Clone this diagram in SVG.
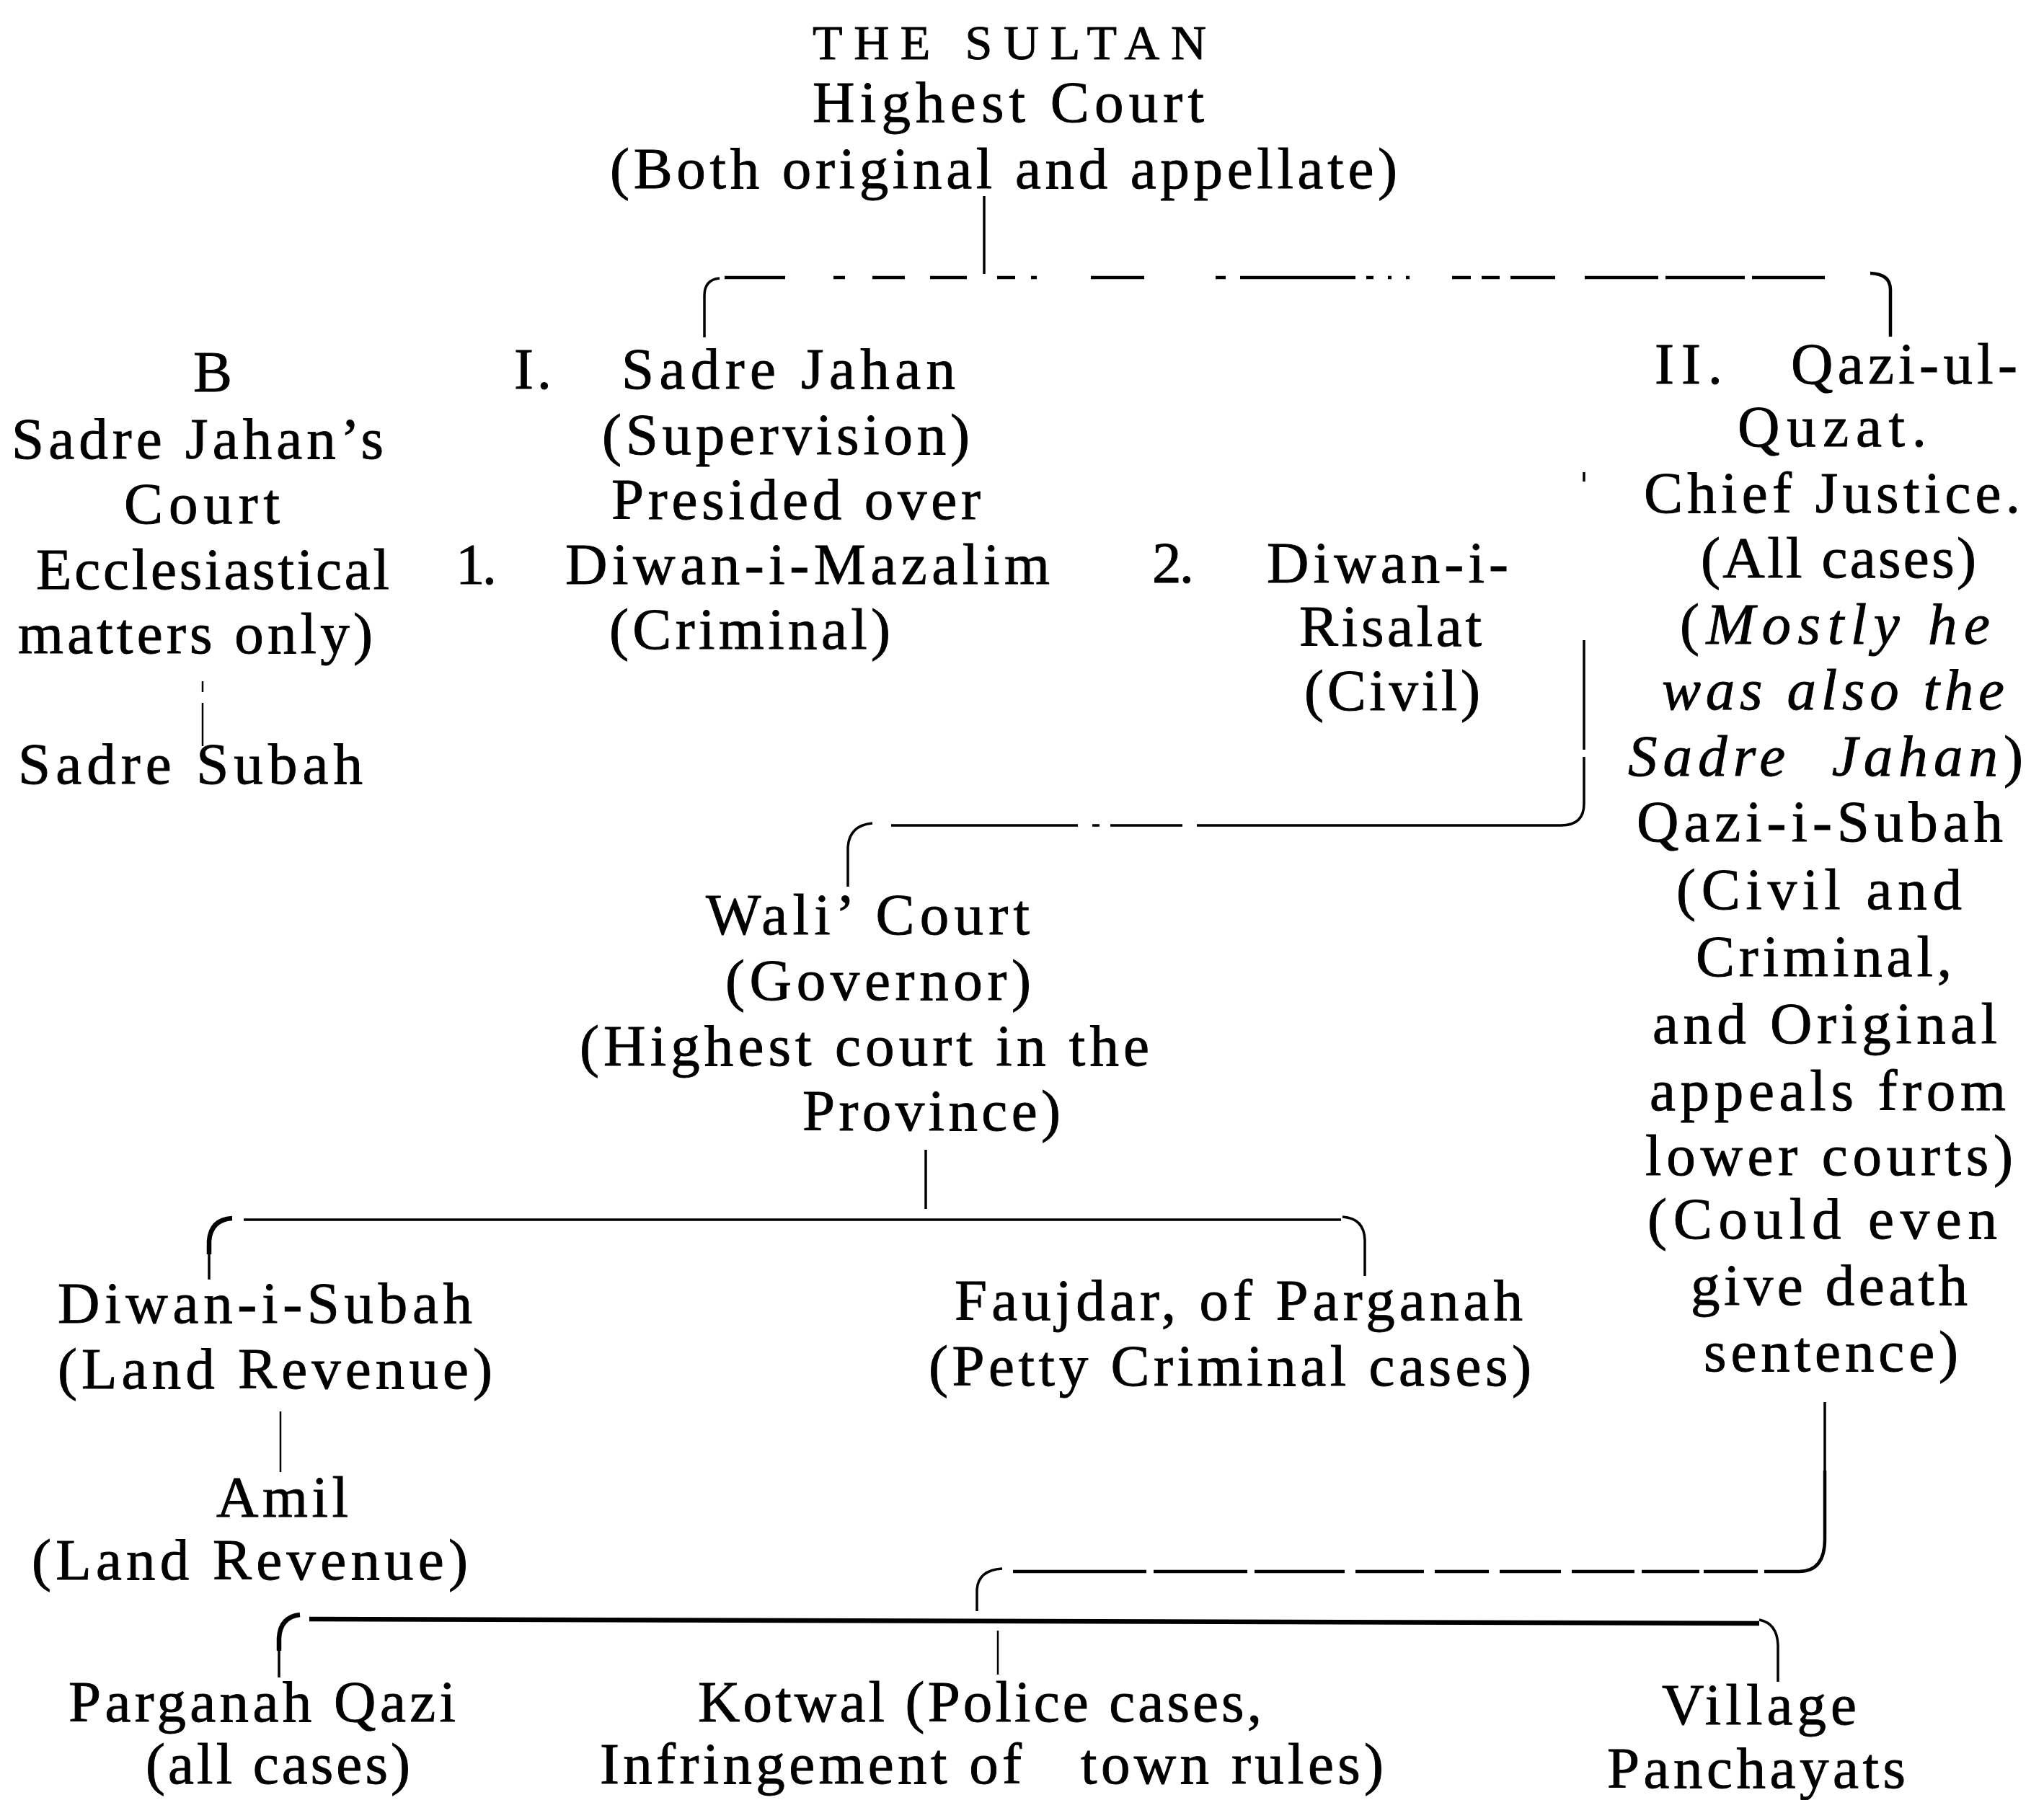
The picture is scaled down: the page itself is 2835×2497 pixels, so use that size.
<svg xmlns="http://www.w3.org/2000/svg" width="2835" height="2497" viewBox="0 0 2835 2497">
<style>
.t{font-family:"Liberation Serif","Times New Roman",serif;font-size:81px;fill:#000;stroke:#000;stroke-width:0.9}
.s{font-size:68px}
.i{font-style:italic}
.c{fill:none;stroke:#000;stroke-width:3.5}
.w{stroke-width:4.5}
.k{stroke-width:6.5}
.n{stroke-width:2.5}
</style>
<rect width="2835" height="2497" fill="#fff"/>
<g id="connectors">
<path class="c" d="M1365,272 V380"/>
<path class="c" d="M977,468 V410 Q977,388 998,386"/>
<path class="c w" d="M1005,385 H1089 M1156,385 H1172 M1210,385 H1255 M1290,385 H1341 M1383,385 H1408 M1430,385 H1438 M1513,385 H1587 M1686,385 H1700 M1720,385 H1880 M1895,385 H1905 M1925,385 H1930 M1950,385 H1955 M2014,385 H2040 M2055,385 H2080 M2095,385 H2157 M2198,385 H2300 M2310,385 H2420 M2430,385 H2531"/>
<path class="c w" d="M2594,379 Q2622,380 2622,402 V467"/>
<path class="c" d="M2197,655 V668 M2197,888 V1040 M2197,1050 V1115 Q2197,1145 2165,1145 H1660 M1640,1145 H1540 M1525,1145 H1515 M1495,1145 H1236"/>
<path class="c" d="M1210,1142 Q1178,1145 1176,1175 V1230"/>
<path class="c" d="M1284,1595 V1677"/>
<path class="c k" d="M322,1690 Q292,1692 290,1722 V1740"/>
<path class="c" d="M290,1735 V1775"/>
<path class="c" d="M338,1692 H1860"/>
<path class="c" d="M1862,1688 Q1892,1690 1893,1720 V1770"/>
<path class="c n" d="M389,1958 V2042"/>
<path class="c n" d="M281,945 V960 M281,975 V1035"/>
<path class="c" d="M2531,1945 V2045"/>
<path class="c w" d="M2531,2040 V2135 Q2531,2180 2495,2180 H2447 M2438,2180 H2363 M2357,2180 H2277 M2267,2180 H2180 M2165,2180 H2080 M2065,2180 H1990 M1975,2180 H1880 M1865,2180 H1740 M1730,2180 H1600 M1590,2180 H1405"/>
<path class="c" d="M1390,2176 Q1357,2178 1355,2205 V2235"/>
<path class="c k" d="M416,2240 Q389,2243 387,2272 V2290"/>
<path class="c" d="M387,2285 V2327"/>
<path class="c k" d="M429,2246 L2440,2252"/>
<path class="c" d="M2440,2247 Q2465,2252 2466,2282 V2333"/>
<path class="c n" d="M1384,2262 V2323"/>
</g>
<g id="sultan">
<text class="t s" x="1127" y="82" textLength="546" lengthAdjust="spacing">THE SULTAN</text>
<text class="t" x="1127" y="169" textLength="543" lengthAdjust="spacing">Highest Court</text>
<text class="t" x="846" y="261" textLength="1092" lengthAdjust="spacing">(Both original and appellate)</text>
</g>
<g id="sadre-jahans-court">
<text class="t" x="268" y="543" textLength="48" lengthAdjust="spacing">B</text>
<text class="t" x="16" y="636" textLength="516" lengthAdjust="spacing">Sadre Jahan’s</text>
<text class="t" x="172" y="726" textLength="216" lengthAdjust="spacing">Court</text>
<text class="t" x="50" y="817" textLength="490" lengthAdjust="spacing">Ecclesiastical</text>
<text class="t" x="25" y="906" textLength="492" lengthAdjust="spacing">matters only)</text>
</g>
<g id="sadre-subah">
<text class="t" x="25" y="1087" textLength="478" lengthAdjust="spacing">Sadre Subah</text>
</g>
<g id="sadre-jahan">
<text class="t" x="713" y="539" textLength="52" lengthAdjust="spacing">I.</text>
<text class="t" x="862" y="539" textLength="463" lengthAdjust="spacing">Sadre Jahan</text>
<text class="t" x="835" y="630" textLength="510" lengthAdjust="spacing">(Supervision)</text>
<text class="t" x="848" y="720" textLength="512" lengthAdjust="spacing">Presided over</text>
</g>
<g id="diwan-i-mazalim">
<text class="t" x="632" y="810" textLength="57" lengthAdjust="spacing">1.</text>
<text class="t" x="784" y="810" textLength="672" lengthAdjust="spacing">Diwan-i-Mazalim</text>
<text class="t" x="845" y="900" textLength="390" lengthAdjust="spacing">(Criminal)</text>
</g>
<g id="diwan-i-risalat">
<text class="t" x="1598" y="808" textLength="58" lengthAdjust="spacing">2.</text>
<text class="t" x="1757" y="808" textLength="335" lengthAdjust="spacing">Diwan-i-</text>
<text class="t" x="1802" y="896" textLength="253" lengthAdjust="spacing">Risalat</text>
<text class="t" x="1809" y="985" textLength="244" lengthAdjust="spacing">(Civil)</text>
</g>
<g id="qazi-ul-quzat">
<text class="t" x="2295" y="532" textLength="94" lengthAdjust="spacing">II.</text>
<text class="t" x="2484" y="532" textLength="314" lengthAdjust="spacing">Qazi-ul-</text>
<text class="t" x="2410" y="619" textLength="262" lengthAdjust="spacing">Quzat.</text>
<text class="t" x="2280" y="711" textLength="522" lengthAdjust="spacing">Chief Justice.</text>
<text class="t" x="2359" y="801" textLength="382" lengthAdjust="spacing">(All cases)</text>
<text class="t" x="2330" y="893" textLength="430" lengthAdjust="spacing">(<tspan class="i">Mostly he</tspan></text>
<text class="t i" x="2305" y="984" textLength="475" lengthAdjust="spacing">was also the</text>
<text class="t" x="2258" y="1076" textLength="548" lengthAdjust="spacing" xml:space="preserve"><tspan class="i">Sadre  Jahan</tspan>)</text>
</g>
<g id="qazi-i-subah">
<text class="t" x="2270" y="1167" textLength="508" lengthAdjust="spacing">Qazi-i-Subah</text>
<text class="t" x="2325" y="1261" textLength="396" lengthAdjust="spacing">(Civil and</text>
<text class="t" x="2352" y="1354" textLength="355" lengthAdjust="spacing">Criminal,</text>
<text class="t" x="2292" y="1447" textLength="478" lengthAdjust="spacing">and Original</text>
<text class="t" x="2288" y="1540" textLength="494" lengthAdjust="spacing">appeals from</text>
<text class="t" x="2282" y="1630" textLength="510" lengthAdjust="spacing">lower courts)</text>
<text class="t" x="2285" y="1718" textLength="485" lengthAdjust="spacing">(Could even</text>
<text class="t" x="2345" y="1810" textLength="384" lengthAdjust="spacing">give death</text>
<text class="t" x="2363" y="1902" textLength="353" lengthAdjust="spacing">sentence)</text>
</g>
<g id="wali-court">
<text class="t" x="979" y="1296" textLength="449" lengthAdjust="spacing">Wali’ Court</text>
<text class="t" x="1006" y="1387" textLength="424" lengthAdjust="spacing">(Governor)</text>
<text class="t" x="804" y="1478" textLength="790" lengthAdjust="spacing">(Highest court in the</text>
<text class="t" x="1113" y="1568" textLength="358" lengthAdjust="spacing">Province)</text>
</g>
<g id="diwan-i-subah">
<text class="t" x="80" y="1835" textLength="575" lengthAdjust="spacing">Diwan-i-Subah</text>
<text class="t" x="80" y="1926" textLength="603" lengthAdjust="spacing">(Land Revenue)</text>
</g>
<g id="amil">
<text class="t" x="300" y="2104" textLength="183" lengthAdjust="spacing">Amil</text>
<text class="t" x="44" y="2191" textLength="605" lengthAdjust="spacing">(Land Revenue)</text>
</g>
<g id="faujdar">
<text class="t" x="1324" y="1831" textLength="788" lengthAdjust="spacing">Faujdar, of Parganah</text>
<text class="t" x="1288" y="1922" textLength="836" lengthAdjust="spacing">(Petty Criminal cases)</text>
</g>
<g id="parganah-qazi">
<text class="t" x="95" y="2388" textLength="537" lengthAdjust="spacing">Parganah Qazi</text>
<text class="t" x="202" y="2474" textLength="367" lengthAdjust="spacing">(all cases)</text>
</g>
<g id="kotwal">
<text class="t" x="968" y="2388" textLength="782" lengthAdjust="spacing">Kotwal (Police cases,</text>
<text class="t" x="832" y="2474" textLength="1087" lengthAdjust="spacing" xml:space="preserve">Infringement of   town rules)</text>
</g>
<g id="village-panchayats">
<text class="t" x="2305" y="2392" textLength="270" lengthAdjust="spacing">Village</text>
<text class="t" x="2229" y="2480" textLength="414" lengthAdjust="spacing">Panchayats</text>
</g>
</svg>
